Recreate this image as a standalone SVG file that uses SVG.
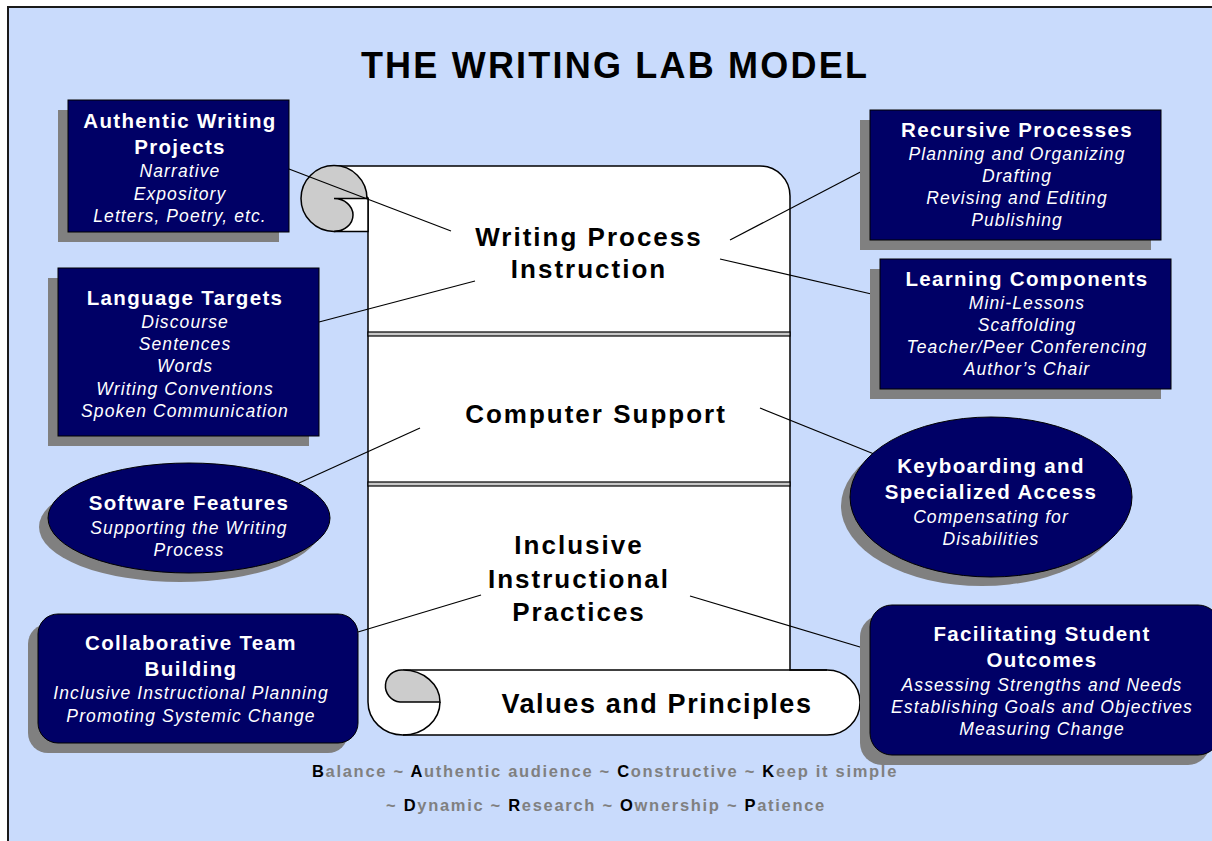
<svg xmlns="http://www.w3.org/2000/svg" width="1212" height="841" viewBox="0 0 1212 841">
<style>
text{font-family:"Liberation Sans",Arial,sans-serif;text-anchor:middle}
.b{font-weight:bold;fill:#fff;font-size:20.5px;letter-spacing:1.35px}
.i{font-style:italic;fill:#fff;font-size:17.5px;letter-spacing:1.1px}
.box{fill:#000066;stroke:#000;stroke-width:1}
.sh{fill:#808080}
.s{font-weight:bold;fill:#000;font-size:26px;letter-spacing:2px}
.ln{stroke:#000;stroke-width:1.2;fill:none}
.ft{font-weight:bold;font-size:16.5px;fill:#808080;letter-spacing:1.7px}
.ft tspan.k{fill:#000}
</style>
<rect x="0" y="0" width="1212" height="841" fill="#fff"/>
<rect x="8" y="7" width="1210" height="840" fill="#c9dbfc" stroke="#1a1a1a" stroke-width="2"/>
<text x="615" y="78" style="font-weight:bold;font-size:36px;letter-spacing:2.2px" fill="#000">THE WRITING LAB MODEL</text>

<g id="scroll">
<path d="M333,166 L760,166 A30,30 0 0 1 790,196 L790,670 L827,670 A33,32.5 0 0 1 827,735 L403,735 A35,33 0 0 1 368,702 L368,198 Z" fill="#fff" stroke="#000" stroke-width="1.5"/>
<line x1="403" y1="670" x2="827" y2="670" stroke="#000" stroke-width="1.5"/>
<circle cx="334" cy="198.5" r="33" fill="#cccccc" stroke="#000" stroke-width="1.5"/>
<path d="M334,198.5 L368,198.5 L368,231.5 L334,231.5 A19,16.5 0 0 0 334,198.5 Z" fill="#fff" stroke="#000" stroke-width="1.5"/>
<path d="M403,670 A37,32 0 0 1 440,702 L400,702 A16,16 0 0 1 403,670 Z" fill="#cccccc" stroke="#000" stroke-width="1.5"/>
<path d="M440,702 A37,33 0 0 1 403,735" fill="none" stroke="#000" stroke-width="1.5"/>
<rect x="368" y="332" width="422" height="4" fill="#c8c8c8" stroke="#000" stroke-width="1.2"/>
<rect x="368" y="482" width="422" height="4" fill="#c8c8c8" stroke="#000" stroke-width="1.2"/>
<text class="s" x="589" y="246">Writing Process</text>
<text class="s" x="589" y="278">Instruction</text>
<text class="s" x="596" y="423">Computer Support</text>
<text class="s" x="579" y="554">Inclusive</text>
<text class="s" x="579" y="588">Instructional</text>
<text class="s" x="579" y="621">Practices</text>
<text class="s" x="657" y="713" style="font-size:27px;letter-spacing:1.6px">Values and Principles</text>
</g>

<g id="connectors">
<line class="ln" x1="289" y1="169" x2="451" y2="231"/>
<line class="ln" x1="730" y1="240" x2="870" y2="167"/>
<line class="ln" x1="720" y1="259" x2="880" y2="296"/>
<line class="ln" x1="319" y1="322" x2="475" y2="281"/>
<line class="ln" x1="299" y1="483" x2="420" y2="428"/>
<line class="ln" x1="760" y1="408" x2="874" y2="454"/>
<line class="ln" x1="358" y1="632" x2="481" y2="595"/>
<line class="ln" x1="690" y1="596" x2="870" y2="650"/>
</g>

<g id="authentic">
<rect class="sh" x="58" y="110" width="221" height="132"/>
<rect class="box" x="68" y="100" width="221" height="132"/>
<text class="b" x="180" y="128">Authentic Writing</text>
<text class="b" x="180" y="154">Projects</text>
<text class="i" x="180" y="177">Narrative</text>
<text class="i" x="180" y="200">Expository</text>
<text class="i" x="180" y="222">Letters, Poetry, etc.</text>
</g>

<g id="language">
<rect class="sh" x="48" y="278" width="261" height="168"/>
<rect class="box" x="58" y="268" width="261" height="168"/>
<text class="b" x="185" y="305">Language Targets</text>
<text class="i" x="185" y="328">Discourse</text>
<text class="i" x="185" y="350">Sentences</text>
<text class="i" x="185" y="372">Words</text>
<text class="i" x="185" y="395">Writing Conventions</text>
<text class="i" x="185" y="417">Spoken Communication</text>
</g>

<g id="software">
<ellipse class="sh" cx="180" cy="527" rx="141" ry="55"/>
<ellipse class="box" cx="189" cy="518" rx="141" ry="55"/>
<text class="b" x="189" y="510">Software Features</text>
<text class="i" x="189" y="534">Supporting the Writing</text>
<text class="i" x="189" y="556">Process</text>
</g>

<g id="collab">
<rect class="sh" x="28" y="624" width="320" height="129" rx="20"/>
<rect class="box" x="38" y="614" width="320" height="129" rx="20"/>
<text class="b" x="191" y="650">Collaborative Team</text>
<text class="b" x="191" y="676">Building</text>
<text class="i" x="191" y="699">Inclusive Instructional Planning</text>
<text class="i" x="191" y="722">Promoting Systemic Change</text>
</g>

<g id="recursive">
<rect class="sh" x="860" y="120" width="291" height="130"/>
<rect class="box" x="870" y="110" width="291" height="130"/>
<text class="b" x="1017" y="137">Recursive Processes</text>
<text class="i" x="1017" y="160">Planning and Organizing</text>
<text class="i" x="1017" y="182">Drafting</text>
<text class="i" x="1017" y="204">Revising and Editing</text>
<text class="i" x="1017" y="226">Publishing</text>
</g>

<g id="learning">
<rect class="sh" x="870" y="269" width="291" height="130"/>
<rect class="box" x="880" y="259" width="291" height="130"/>
<text class="b" x="1027" y="286">Learning Components</text>
<text class="i" x="1027" y="309">Mini-Lessons</text>
<text class="i" x="1027" y="331">Scaffolding</text>
<text class="i" x="1027" y="353">Teacher/Peer Conferencing</text>
<text class="i" x="1027" y="375">Author’s Chair</text>
</g>

<g id="keyboarding">
<ellipse class="sh" cx="982" cy="506" rx="141" ry="80"/>
<ellipse class="box" cx="991" cy="497" rx="141" ry="80"/>
<text class="b" x="991" y="473">Keyboarding and</text>
<text class="b" x="991" y="499">Specialized Access</text>
<text class="i" x="991" y="523">Compensating for</text>
<text class="i" x="991" y="545">Disabilities</text>
</g>

<g id="facilitating">
<rect class="sh" x="860" y="615" width="350" height="150" rx="22"/>
<rect class="box" x="870" y="605" width="350" height="150" rx="22"/>
<text class="b" x="1042" y="641">Facilitating Student</text>
<text class="b" x="1042" y="667">Outcomes</text>
<text class="i" x="1042" y="691">Assessing Strengths and Needs</text>
<text class="i" x="1042" y="713">Establishing Goals and Objectives</text>
<text class="i" x="1042" y="735">Measuring Change</text>
</g>

<g id="footer">
<text class="ft" x="605" y="777"><tspan class="k">B</tspan>alance ~ <tspan class="k">A</tspan>uthentic audience ~ <tspan class="k">C</tspan>onstructive ~ <tspan class="k">K</tspan>eep it simple</text>
<text class="ft" x="606" y="811">~ <tspan class="k">D</tspan>ynamic ~ <tspan class="k">R</tspan>esearch ~ <tspan class="k">O</tspan>wnership ~ <tspan class="k">P</tspan>atience</text>
</g>
</svg>
